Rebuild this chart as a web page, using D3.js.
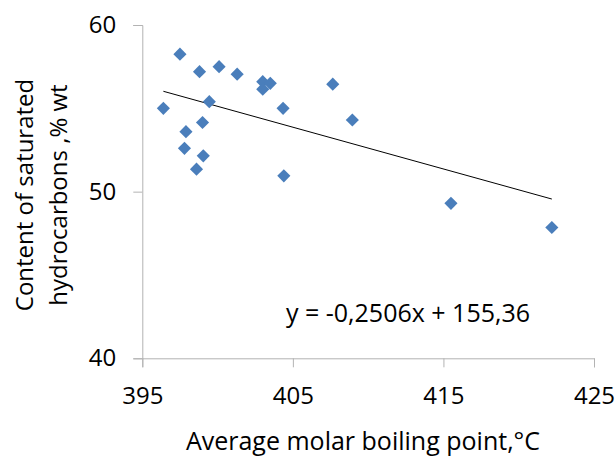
<!DOCTYPE html>
<html>
<head>
<meta charset="utf-8">
<script src="https://cdn.jsdelivr.net/npm/d3@7"></script>
<style>
  body { margin: 0; background: #fff; }
  text { font-family: "Open Sans", sans-serif; fill: #000; }
</style>
</head>
<body>
<div id="viz"></div>
<script>
// average molar boiling point, C
var boilingPoint = [396.4, 397.5, 398.8, 400.1, 401.3, 403.0, 403.5, 403.0,
  404.35, 404.4, 399.45, 399.0, 397.9, 397.8, 399.05, 398.6, 407.65, 408.95, 415.5, 422.2];
// content of saturated hydrocarbons, % wt
var saturates = [55.0, 58.25, 57.2, 57.5, 57.05, 56.6, 56.5, 56.15,
  55.0, 50.95, 55.4, 54.15, 53.6, 52.6, 52.15, 51.35, 56.45, 54.3, 49.3, 47.85];
var xTicks = [395, 405, 415, 425];
var yTicks = [40, 50, 60];
var slope = -0.2506, intercept = 155.36;
var equation = "y = -0,2506x + 155,36";

var width = 616, height = 456;

var svg = d3.select("#viz").append("svg")
  .attr("width", width)
  .attr("height", height);

var x = d3.scaleLinear().domain([395, 425]).range([142.3, 594]);
var y = d3.scaleLinear().domain([40, 60]).range([358.3, 25]);

var axisColor = "#b3b3b3";

// y axis
var gy = svg.append("g")
  .attr("transform", "translate(" + x(395) + ",0)")
  .call(d3.axisLeft(y).tickValues(yTicks).tickSize(9).tickPadding(17).tickFormat(d3.format("d")));
gy.select(".domain").attr("stroke", axisColor);
gy.selectAll(".tick line").attr("stroke", axisColor);
gy.selectAll("text").attr("font-size", 24).attr("font-family", "Open Sans");

// x axis
var gx = svg.append("g")
  .attr("transform", "translate(0," + y(40) + ")")
  .call(d3.axisBottom(x).tickValues(xTicks).tickSize(9).tickPadding(20).tickFormat(d3.format("d")));
gx.select(".domain").attr("stroke", axisColor);
gx.selectAll(".tick line").attr("stroke", axisColor);
gx.selectAll("text").attr("font-size", 24).attr("font-family", "Open Sans");

// trend line between the data extremes
var xExt = d3.extent(boilingPoint);
svg.append("line")
  .attr("x1", x(xExt[0])).attr("y1", y(slope * xExt[0] + intercept))
  .attr("x2", x(xExt[1])).attr("y2", y(slope * xExt[1] + intercept))
  .attr("stroke", "#000")
  .attr("stroke-width", 1);

// diamond markers
var diamond = d3.symbol().type(d3.symbolDiamond2).size(110);
for (var i = 0; i < boilingPoint.length; i++) {
  svg.append("path")
    .attr("d", diamond)
    .attr("transform", "translate(" + x(boilingPoint[i]) + "," + y(saturates[i]) + ")")
    .attr("fill", "#4a7ebb");
}

svg.append("text")
  .attr("x", 408).attr("y", 322)
  .attr("text-anchor", "middle")
  .attr("font-size", 25)
  .text(equation);

// axis titles
svg.append("text")
  .attr("x", 363).attr("y", 450)
  .attr("text-anchor", "middle")
  .attr("font-size", 25)
  .text("Average molar boiling point,°C");

var yt = svg.append("text")
  .attr("transform", "translate(0,195) rotate(-90)")
  .attr("text-anchor", "middle")
  .attr("font-size", 24);
yt.append("tspan").attr("x", 0).attr("y", 33).text("Content of saturated");
yt.append("tspan").attr("x", 0).attr("y", 67).text("hydrocarbons ,% wt");
</script>
</body>
</html>
